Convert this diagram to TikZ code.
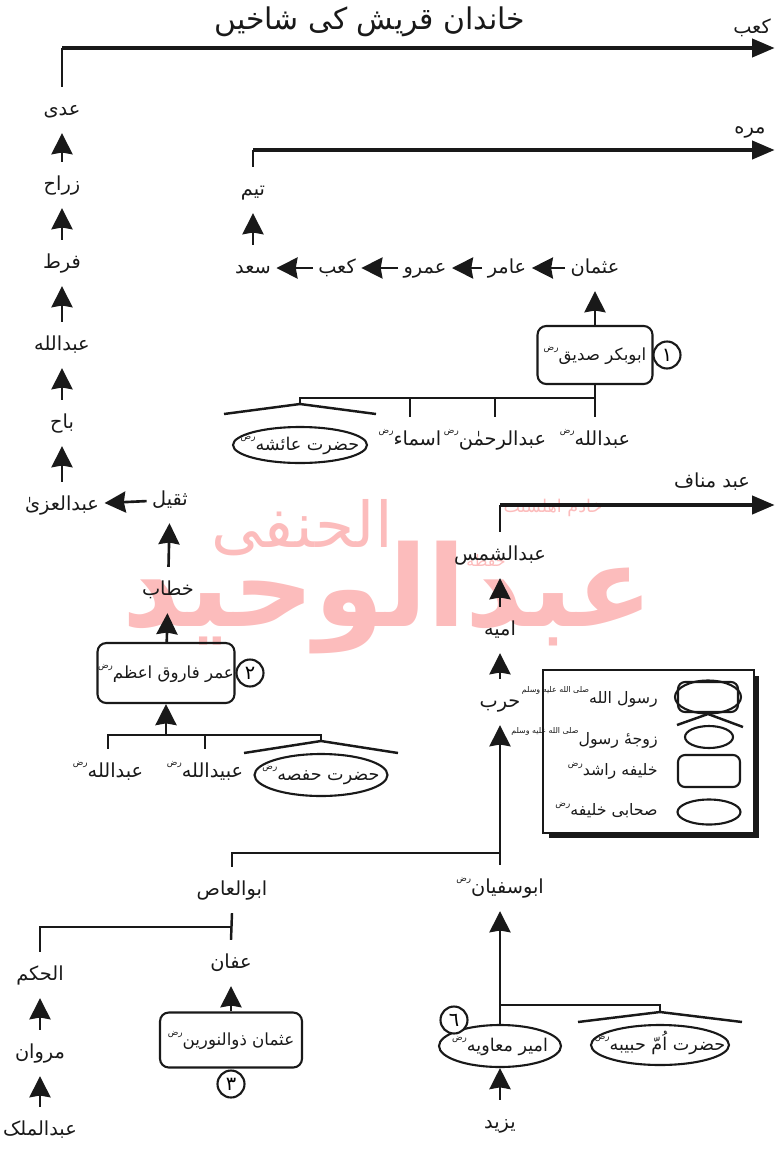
\documentclass[tikz,border=0pt]{standalone}
\usepackage{fontspec}
\usetikzlibrary{positioning, arrows.meta, shapes.geometric, calc}
\newfontfamily\urdufont[Script=Arabic]{DejaVu Sans}
\TeXXeTstate=1
\newcommand{\urtext}[1]{\beginR #1\endR}
\newcommand{\radi}{\raisebox{1.1ex}{\fontsize{5}{5}\selectfont رض}}
\newcommand{\salla}{\raisebox{1.2ex}{\fontsize{4.5}{5}\selectfont\beginR صلی الله علیه وسلم\endR}}
\definecolor{inkblack}{RGB}{25,25,25}
\definecolor{markpink}{RGB}{252,188,188}
\tikzset{
    person/.style={font=\urdufont\fontsize{11}{13}\selectfont, text=inkblack, inner xsep=3pt, inner ysep=7pt, text height=9pt, text depth=3pt},
    khalifabox/.style={person, font=\urdufont\fontsize{9.5}{11}\selectfont, draw=inkblack, line width=1.2pt, rounded corners=5pt, inner sep=0pt},
    sahabioval/.style={ellipse, draw=inkblack, line width=1.2pt, inner sep=0pt},
    ovalname/.style={person, font=\urdufont\fontsize{10}{12}\selectfont, inner sep=0pt},
    numcircle/.style={circle, draw=inkblack, line width=1.2pt, minimum size=0.54cm, inner sep=0pt, font=\urdufont\fontsize{11}{12}\selectfont},
    keybox/.style={draw=inkblack, line width=1.2pt, rounded corners=4pt, inner sep=0pt},
    keyoval/.style={ellipse, draw=inkblack, line width=1.2pt, inner sep=0pt},
    keylabel/.style={font=\urdufont\fontsize{9}{10}\selectfont, text=inkblack, anchor=east, inner sep=0pt},
    mainline/.style={line width=2.8pt, draw=inkblack, -{Stealth[length=13pt, width=10pt, inset=0pt]}},
    chainarrow/.style={line width=1.5pt, draw=inkblack, -{Stealth[length=12pt, width=12pt, inset=1pt]}},
    branch/.style={line width=1.4pt, draw=inkblack},
    roof/.style={line width=1.4pt, draw=inkblack},
    watermark/.style={text=markpink}
}

\begin{document}
\begin{tikzpicture}[x=0.02cm, y=-0.02cm]
    \useasboundingbox (0,0) rectangle (775,1153);

    % Wasserzeichen (hinter allem)
    \node[watermark, font=\urdufont\bfseries\fontsize{64}{70}\selectfont] (markname) at (388,598) {\urtext{عبدالوحید}};
    \node[watermark, font=\urdufont\fontsize{36}{40}\selectfont] (marknisba) at (302,528) {\urtext{الحنفی}};
    \node[watermark, font=\urdufont\fontsize{10}{12}\selectfont] (markkhadim) at (553,508) {\urtext{خادم اهلسنت}};
    \node[watermark, font=\urdufont\fontsize{9}{10}\selectfont] (markhafiz) at (486,560) {\urtext{حفظه}};

    % 1. Titel
    \node[font=\urdufont\fontsize{17}{20}\selectfont, text=inkblack] (title) at (370,22) {\urtext{خاندان قریش کی شاخیں}};

    % 2. Hauptlinien (Kaab, Murrah, Abd Manaf)
    \node[person] (kab) at (752,28) {\urtext{کعب}};
    \node[person] (murrah) at (750,128) {\urtext{مره}};
    \node[person] (abdmanaf) at (712,482) {\urtext{عبد مناف}};
    \coordinate (kabend) at (775,48);
    \coordinate (murrahend) at (775,150);
    \coordinate (manafend) at (775,505);

    % ==========================================
    % 3. Linie Adi -> Umar
    % ==========================================
    \node[person] (adi) at (62,110) {\urtext{عدی}};
    \node[person] (zarah) at (62,185) {\urtext{زراح}};
    \node[person] (qurt) at (62,263) {\urtext{فرط}};
    \node[person] (abdullahq) at (62,345) {\urtext{عبدالله}};
    \node[person] (baah) at (62,423) {\urtext{باح}};
    \node[person] (abdaluzza) at (62,505) {\urtext{عبدالعزیٰ}};
    \node[person] (nufail) at (170,500) {\urtext{ثقیل}};
    \node[person] (khattab) at (168,590) {\urtext{خطاب}};
    \node[khalifabox, minimum width=2.74cm, minimum height=1.2cm] (umar) at (166,673) {\urtext{عمر فاروق اعظم\radi}};
    \node[numcircle] (umarnum) at (250,673) {٢};

    % Kinder von Umar
    \coordinate (umarbar) at (166,735);
    \node[person] (umarkid1) at (108,772) {\urtext{عبدالله\radi}};
    \node[person] (umarkid2) at (205,772) {\urtext{عبیدالله\radi}};
    \node[sahabioval, minimum width=2.66cm, minimum height=0.84cm] (hafsa) at (321,775) {};
    \node[ovalname] (hafsaname) at (hafsa) {\urtext{حضرت حفصه\radi}};

    % ==========================================
    % 4. Linie Taym -> Abu Bakr
    % ==========================================
    \node[person] (taym) at (253,190) {\urtext{تیم}};
    \node[person] (saad) at (253,268) {\urtext{سعد}};
    \node[person] (kab2) at (337,268) {\urtext{کعب}};
    \node[person] (amr) at (425,268) {\urtext{عمرو}};
    \node[person] (amir) at (507,268) {\urtext{عامر}};
    \node[person] (uthmanq) at (595,268) {\urtext{عثمان}};
    \node[khalifabox, minimum width=2.3cm, minimum height=1.16cm] (abubakr) at (595,355) {\urtext{ابوبکر صدیق\radi}};
    \node[numcircle] (abubakrnum) at (667,355) {١};

    % Kinder von Abu Bakr
    \coordinate (abubakrbar) at (595,398);
    \node[person] (abk1) at (595,440) {\urtext{عبدالله\radi}};
    \node[person] (abk2) at (495,440) {\urtext{عبدالرحمٰن\radi}};
    \node[person] (abk3) at (410,440) {\urtext{اسماء\radi}};
    \node[sahabioval, minimum width=2.68cm, minimum height=0.72cm] (aisha) at (300,445) {};
    \node[ovalname] (aishaname) at (aisha) {\urtext{حضرت عائشه\radi}};

    % ==========================================
    % 5. Linie Abd Shams -> Umayya
    % ==========================================
    \node[person] (abdshams) at (500,555) {\urtext{عبدالشمس}};
    \node[person] (umayya) at (500,630) {\urtext{امیه}};
    \node[person] (harb) at (500,702) {\urtext{حرب}};
    \coordinate (harbbar) at (500,853);
    \node[person] (abusufyan) at (500,888) {\urtext{ابوسفیان\radi}};
    \node[person] (abulaas) at (232,890) {\urtext{ابوالعاص}};
    \coordinate (abulaasbar) at (232,927);
    \node[person] (hakam) at (40,975) {\urtext{الحکم}};
    \node[person] (affan) at (231,963) {\urtext{عفان}};
    \node[khalifabox, minimum width=2.84cm, minimum height=1.1cm] (uthman) at (231,1040) {\urtext{عثمان ذوالنورین\radi}};
    \node[numcircle] (uthmannum) at (231,1084) {٣};
    \node[person] (marwan) at (40,1053) {\urtext{مروان}};
    \node[person] (abdulmalik) at (40,1130) {\urtext{عبدالملک}};

    % Kinder von Abu Sufyan
    \coordinate (sufyanbar) at (500,1005);
    \node[sahabioval, minimum width=2.44cm, minimum height=0.84cm] (muawiya) at (500,1046) {};
    \node[ovalname] (muawiyaname) at (muawiya) {\urtext{امیر معاویه\radi}};
    \node[numcircle, fill=white] (muawiyanum) at (454,1020) {٦};
    \node[sahabioval, minimum width=2.76cm, minimum height=0.8cm] (ummhabiba) at (660,1045) {};
    \node[ovalname] (ummhabibaname) at (ummhabiba) {\urtext{حضرت اُمّ حبیبه\radi}};
    \node[person] (yazid) at (500,1123) {\urtext{یزید}};

    % ==========================================
    % 6. Legende
    % ==========================================
    \node[fill=inkblack, minimum width=4.22cm, minimum height=3.26cm, inner sep=0pt] (legendshadow) at (654,757) {};
    \node[draw=inkblack, fill=white, line width=1.2pt, minimum width=4.22cm, minimum height=3.26cm, inner sep=0pt] (legend) at (648.5,751.5) {};
    \node[keybox, minimum width=1.2cm, minimum height=0.6cm] (keyrasul) at (708,697) {};
    \node[keyoval, minimum width=1.32cm, minimum height=0.66cm] (keyrasuloval) at (708,697) {};
    \node[keyoval, minimum width=0.96cm, minimum height=0.44cm] (keyzauja) at (709,737) {};
    \coordinate (zaujaroof) at (708,714);
    \node[keybox, minimum width=1.24cm, minimum height=0.64cm] (keykhalifa) at (709,771) {};
    \node[keyoval, minimum width=1.26cm, minimum height=0.5cm] (keysahabi) at (709,812) {};
    \node[keylabel] (keyrasultext) at (658,697) {\urtext{رسول الله\salla}};
    \node[keylabel] (keyzaujatext) at (658,738) {\urtext{زوجهٔ رسول\salla}};
    \node[keylabel] (keykhalifatext) at (658,771) {\urtext{خلیفه راشد\radi}};
    \node[keylabel] (keysahabitext) at (658,810) {\urtext{صحابی خلیفه\radi}};

    % ==========================================
    % Verbindungen (Pfeile)
    % ==========================================

    % Kaab
    \draw[branch] (adi.north) -- (adi.north |- kabend);
    \draw[mainline] (adi.north |- kabend) -- (kabend);
    \draw[chainarrow] (zarah) -- (adi);
    \draw[chainarrow] (qurt) -- (zarah);
    \draw[chainarrow] (abdullahq) -- (qurt);
    \draw[chainarrow] (baah) -- (abdullahq);
    \draw[chainarrow] (abdaluzza) -- (baah);
    \draw[chainarrow] (nufail) -- (abdaluzza);
    \draw[chainarrow] (khattab) -- (nufail);
    \draw[chainarrow] (umar) -- (khattab);
    \draw[chainarrow] (umarbar) -- (umar);
    \draw[branch] (umarkid1.north) |- (hafsa.north |- umarbar) -- ++(0,6) coordinate (hafsaroof);
    \draw[branch] (umarkid2.north) -- (umarkid2.north |- umarbar);
    \draw[roof] ($(hafsaroof)+(-77,12)$) -- (hafsaroof) -- ($(hafsaroof)+(77,12)$);

    % Murrah
    \draw[branch] (taym.north) -- (taym.north |- murrahend);
    \draw[mainline] (taym.north |- murrahend) -- (murrahend);
    \draw[chainarrow] (saad) -- (taym);
    \draw[chainarrow] (kab2) -- (saad);
    \draw[chainarrow] (amr) -- (kab2);
    \draw[chainarrow] (amir) -- (amr);
    \draw[chainarrow] (uthmanq) -- (amir);
    \draw[chainarrow] (abubakr) -- (uthmanq);
    \draw[branch] (abubakr.south) -- (abk1.north);
    \draw[branch] (abubakrbar) -- (aisha.north |- abubakrbar) -- ++(0,6) coordinate (aisharoof);
    \draw[branch] (abk2.north |- abubakrbar) -- (abk2.north);
    \draw[branch] (abk3.north |- abubakrbar) -- (abk3.north);
    \draw[roof] ($(aisharoof)+(-76,10)$) -- (aisharoof) -- ($(aisharoof)+(76,10)$);

    % Abd Manaf
    \draw[branch] (abdshams.north) -- (abdshams.north |- manafend);
    \draw[mainline] (abdshams.north |- manafend) -- (manafend);
    \draw[chainarrow] (umayya) -- (abdshams);
    \draw[chainarrow] (harb) -- (umayya);
    \draw[chainarrow] (abusufyan) -- (harb);
    \draw[branch] (harbbar) -| (abulaas.north);
    \draw[branch] (abulaas.south) -- (affan.north);
    \draw[branch] (abulaasbar) -| (hakam.north);
    \draw[chainarrow] (uthman) -- (affan);
    \draw[chainarrow] (marwan) -- (hakam);
    \draw[chainarrow] (abdulmalik) -- (marwan);
    \draw[chainarrow] (muawiya) -- (abusufyan);
    \draw[branch] (sufyanbar) -- (ummhabiba.north |- sufyanbar) -- ++(0,7) coordinate (habibaroof);
    \draw[roof] ($(habibaroof)+(-82,10)$) -- (habibaroof) -- ($(habibaroof)+(82,10)$);
    \draw[chainarrow] (yazid) -- (muawiya);

    % Legende: Dach
    \draw[roof] ($(zaujaroof)+(-31,11)$) -- (zaujaroof) -- ($(zaujaroof)+(35,13)$);

\end{tikzpicture}
\end{document}
